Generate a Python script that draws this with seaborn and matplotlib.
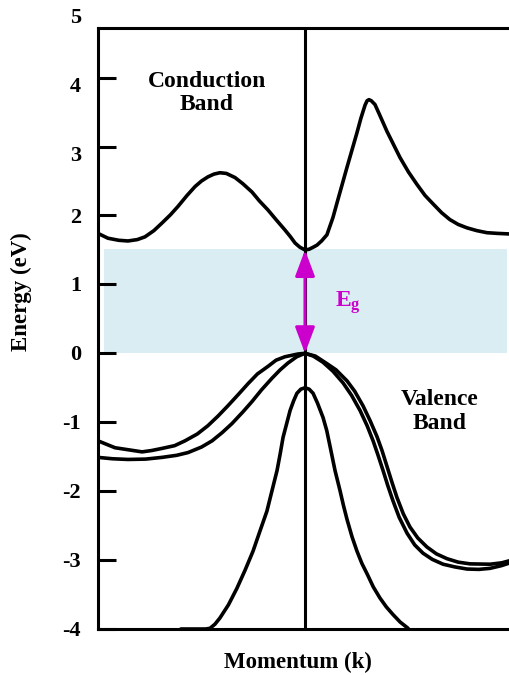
import matplotlib
matplotlib.use("Agg")
import pandas as pd
import matplotlib.pyplot as plt
import seaborn as sns
from matplotlib.patches import Rectangle
from matplotlib.transforms import blended_transform_factory, ScaledTranslation

# --- band data (k in [-1, 1], energy in eV) ---
k_cb = [-1.0, -0.952, -0.90, -0.855, -0.81, -0.773, -0.73, -0.691, -0.65, -0.614,
        -0.57, -0.531, -0.50, -0.469, -0.44, -0.411, -0.38, -0.338, -0.30, -0.256,
        -0.22, -0.179, -0.14, -0.097, -0.07, -0.048, -0.025, 0.0, 0.02, 0.04,
        0.058, 0.08, 0.106, 0.135, 0.159, 0.203, 0.251, 0.27, 0.290, 0.30,
        0.309, 0.32, 0.338, 0.365, 0.396, 0.459, 0.50, 0.541, 0.58, 0.618,
        0.66, 0.700, 0.74, 0.783, 0.83, 0.879, 0.93, 1.0]
E_cb = [1.74, 1.67, 1.64, 1.63, 1.65, 1.69, 1.78, 1.89, 2.01, 2.13,
        2.29, 2.42, 2.50, 2.56, 2.60, 2.62, 2.61, 2.55, 2.46, 2.34,
        2.21, 2.08, 1.94, 1.79, 1.69, 1.60, 1.54, 1.50, 1.51, 1.54,
        1.57, 1.63, 1.72, 1.97, 2.23, 2.70, 3.20, 3.41, 3.60, 3.665,
        3.68, 3.665, 3.61, 3.43, 3.22, 2.84, 2.63, 2.45, 2.29, 2.17,
        2.04, 1.94, 1.87, 1.82, 1.78, 1.75, 1.74, 1.73]

k_hh = [-1.0, -0.918, -0.787, -0.74, -0.691, -0.63, -0.580, -0.52, -0.469, -0.42,
        -0.372, -0.32, -0.275, -0.23, -0.179, -0.14, -0.097, -0.034, 0.0, 0.05,
        0.106, 0.15, 0.203, 0.24, 0.280, 0.315, 0.348, 0.372, 0.396, 0.42,
        0.444, 0.475, 0.507, 0.545, 0.589, 0.635, 0.686, 0.74, 0.797, 0.894, 0.95, 1.0]
E_hh = [-1.27, -1.37, -1.43, -1.41, -1.38, -1.34, -1.27, -1.17, -1.05, -0.91,
        -0.76, -0.59, -0.44, -0.30, -0.19, -0.10, -0.05, -0.01, 0.0, -0.04,
        -0.15, -0.24, -0.40, -0.55, -0.76, -0.98, -1.21, -1.41, -1.64, -1.87,
        -2.09, -2.33, -2.52, -2.68, -2.81, -2.91, -2.98, -3.03, -3.055, -3.06, -3.04, -3.00]

k_lh = [-1.0, -0.93, -0.855, -0.77, -0.691, -0.62, -0.565, -0.50, -0.449, -0.40,
        -0.353, -0.30, -0.256, -0.21, -0.159, -0.12, -0.082, -0.04, 0.0, 0.04,
        0.087, 0.135, 0.184, 0.225, 0.266, 0.30, 0.329, 0.353, 0.377, 0.40,
        0.425, 0.455, 0.493, 0.53, 0.570, 0.615, 0.667, 0.725, 0.783, 0.84, 0.894, 0.95, 1.0]
E_lh = [-1.51, -1.53, -1.54, -1.535, -1.51, -1.48, -1.44, -1.36, -1.27, -1.15,
        -1.02, -0.85, -0.70, -0.53, -0.36, -0.24, -0.14, -0.05, 0.0, -0.04,
        -0.13, -0.26, -0.43, -0.61, -0.83, -1.05, -1.27, -1.48, -1.70, -1.92,
        -2.14, -2.38, -2.61, -2.78, -2.90, -2.99, -3.06, -3.10, -3.13, -3.135, -3.12, -3.08, -3.03]

k_so = [-0.60, -0.48, -0.459, -0.435, -0.411, -0.37, -0.329, -0.29, -0.251, -0.22,
        -0.184, -0.16, -0.135, -0.12, -0.106, -0.072, -0.055, -0.039, -0.02, 0.0,
        0.02, 0.039, 0.06, 0.087, 0.105, 0.121, 0.145, 0.169, 0.186, 0.203,
        0.227, 0.251, 0.275, 0.300, 0.33, 0.362, 0.393, 0.425, 0.46, 0.498]
E_so = [-4.0, -4.0, -3.99, -3.93, -3.84, -3.65, -3.41, -3.15, -2.87, -2.60,
        -2.29, -2.00, -1.70, -1.46, -1.22, -0.83, -0.69, -0.58, -0.52, -0.50,
        -0.52, -0.58, -0.72, -0.93, -1.12, -1.35, -1.70, -1.99, -2.21, -2.41,
        -2.66, -2.87, -3.05, -3.20, -3.39, -3.55, -3.68, -3.79, -3.90, -3.99]

E_gap = 1.5
y_ticks = [-4, -3, -2, -1, 0, 1, 2, 3, 4, 5]

bands = {"CB": (k_cb, E_cb), "HH": (k_hh, E_hh), "LH": (k_lh, E_lh), "SO": (k_so, E_so)}
df = pd.concat([pd.DataFrame({"k": k, "E": E, "band": name}) for name, (k, E) in bands.items()],
               ignore_index=True)

sns.set_style("ticks")
plt.rcParams["font.family"] = ["Liberation Serif", "DejaVu Serif"]
plt.rcParams["font.weight"] = "bold"
plt.rcParams["text.color"] = "black"
plt.rcParams["mathtext.fontset"] = "custom"
plt.rcParams["mathtext.bf"] = "Liberation Serif:bold"
plt.rcParams["mathtext.rm"] = "Liberation Serif:bold"

fig = plt.figure(figsize=(5.09, 6.75), dpi=100)
ax = fig.add_axes([98 / 509, 1 - 629 / 675, 414 / 509, 601 / 675])

# band gap shading
ax.add_patch(Rectangle((-0.971, 0), 1.947, 1.52, facecolor="#daedf3", edgecolor="none", zorder=0.5))
ax.axvline(0, color="black", lw=2.2, zorder=1)

sns.lineplot(data=df, x="k", y="E", units="band", estimator=None, color="black",
             lw=2.6, ax=ax, zorder=3, solid_joinstyle="round", solid_capstyle="round")

ax.annotate("", xy=(0, E_gap), xytext=(0, 0),
            arrowprops=dict(arrowstyle="<|-|>,head_length=0.8,head_width=0.3", mutation_scale=20,
                            color="#cc00cc", lw=2.2, shrinkA=0, shrinkB=0), zorder=4)
ax.text(0.145, 0.74, r"$\mathbf{E_g}$", color="#cc00cc", fontsize=17, va="center", ha="left")

ax.text(-0.473, 3.78, "Conduction\nBand", fontsize=17, ha="center", va="center", linespacing=1.15)
ax.text(0.652, -0.845, "Valence\nBand", fontsize=17, ha="center", va="center", linespacing=1.15)

ax.set_xlim(-1, 1)
ax.set_ylim(-4, 4.72)
ax.set_xticks([])
ax.set_yticks(y_ticks[:-1])
ax.tick_params(axis="y", direction="in", length=13, width=2.2, color="black", labelleft=False)
ax.set_xlabel("")
ax.set_ylabel("")
for side in ["left", "top", "bottom"]:
    ax.spines[side].set_linewidth(2.2)
    ax.spines[side].set_color("black")
ax.spines["right"].set_visible(False)

# tick labels (the upper ones sit a little lower than their ticks)
trans = blended_transform_factory(ax.transAxes, ax.transData)
shift = {5: 9, 4: 9, 3: 9, 2: 3}
for v in y_ticks:
    off = ScaledTranslation(0, -shift.get(v, 2) / 100, fig.dpi_scale_trans)
    ax.text(-0.041, v, str(v), transform=trans + off, ha="right", va="center",
            fontsize=16, clip_on=False)

fig.text(298 / 509, 1 - 662 / 675, "Momentum (k)", ha="center", va="center", fontsize=16.5)
fig.text(21 / 509, 1 - 292 / 675, "Energy (eV)", ha="center", va="center", fontsize=16.5, rotation=90)

fig.savefig("out.png", dpi=100)
